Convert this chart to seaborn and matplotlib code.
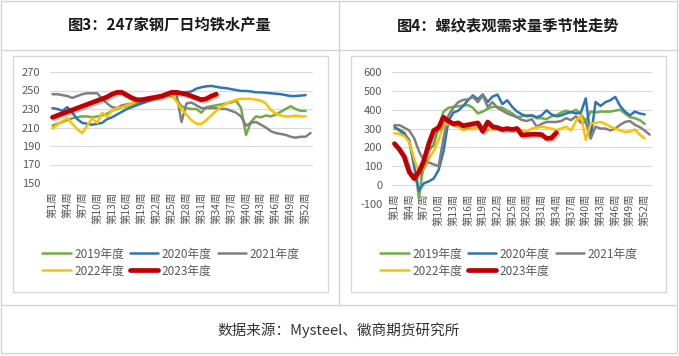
import numpy as np
import pandas as pd
import seaborn as sns
import matplotlib
matplotlib.use('Agg')
import matplotlib.pyplot as plt
from matplotlib.lines import Line2D
from matplotlib.patches import Rectangle
import matplotlib.patheffects as pe

years = ['2019年度', '2020年度', '2021年度', '2022年度', '2023年度']
colors = ['#70AD47', '#2E75B6', '#808080', '#FFC000', '#C00000']
widths = [1.8, 1.8, 1.8, 1.8, 3.4]

# 图3: 247家钢厂日均铁水产量 (万吨), weekly
iron_2019 = [212, 214, 216, 218, 220, 221, 222, 222, 221, 222, 223, 225, 228, 230, 232, 233, 235, 236,
             238, 239, 240, 241, 242, 244, 244, 240, 233, 231, 230, 230, 226, 232, 233, 234, 235, 236,
             237, 239, 231, 202, 216, 222, 221, 223, 222, 224, 227, 230, 233, 230, 228, 228]
iron_2020 = [231, 230, 228, 232, 226, 219, 215, 214, 213, 214, 215, 219, 221, 224, 227, 230, 232, 234,
             236, 238, 240, 242, 244, 246, 247, 248, 248, 248, 249, 252, 253.5, 254.5, 255, 254, 253, 252.5,
             251.5, 250.5, 249.5, 249.5, 249, 248, 248, 247.5, 247, 246.5, 246, 245, 244, 244, 244.5, 245]
iron_2021 = [246, 246, 245, 244, 242, 244, 246, 247, 247, 247, 241, 236, 232, 231, 234, 235, 236, 238,
             240, 241, 242, 243, 244, 245, 246, 246, 216, 236, 237, 234, 231, 231, 231, 231, 230, 230,
             228, 226, 222, 212, 215, 216, 213, 210, 206, 204, 203, 202, 200, 199, 200, 200, 204]
iron_2022 = [209, 213, 217, 220, 214, 208, 204, 212, 220, 215, 226, 222, 228, 231, 232, 234, 236, 238,
             240, 241, 242, 242, 243, 244, 245, 238, 230, 224, 218, 214, 214, 218, 223, 228, 232, 236,
             238, 240, 241, 241, 241, 240, 239, 236, 229, 225, 223, 222, 222, 223, 222, 222]
iron_2023 = [221, 223, 225, 227, 229, 231, 233, 235, 237, 239, 241, 243, 246, 248, 248, 245, 242, 240,
             240, 241, 242, 243, 244, 246, 248, 248, 247, 246, 244, 242, 240, 241, 244, 246]

# 图4: 螺纹表观需求量 (万吨), weekly
rebar_2019 = [300, 295, 280, 230, 120, -70, 130, 190, 210, 310, 390, 410, 415, 418, 422, 425, 410, 380,
              390, 405, 415, 415, 410, 395, 380, 360, 365, 370, 370, 355, 355, 350, 365, 370, 385, 395,
              385, 400, 375, 340, 390, 385, 390, 390, 390, 395, 400, 380, 360, 355, 345, 325]
rebar_2020 = [310, 290, 270, 240, 100, -30, 10, 20, 35, 80, 180, 340, 385, 395, 420, 450, 476, 455,
              481, 441, 470, 480, 430, 450, 415, 390, 375, 365, 370, 360, 370, 397, 375, 365, 370, 380,
              388, 380, 385, 460, 250, 441, 420, 440, 450, 468, 420, 390, 370, 390, 380, 375]
rebar_2021 = [318, 318, 305, 290, 250, 180, 130, 120, 110, 100, 250, 370, 410, 440, 452, 455, 468, 440,
              476, 415, 440, 410, 395, 380, 370, 360, 345, 340, 350, 310, 325, 335, 335, 335, 340, 355,
              345, 365, 330, 335, 247, 310, 300, 300, 290, 300, 320, 335, 340, 320, 308, 290, 268]
rebar_2022 = [275, 272, 260, 230, 140, 60, 90, 140, 180, 240, 315, 326, 320, 310, 291, 300, 295, 305,
              300, 290, 295, 305, 300, 295, 300, 305, 290, 285, 300, 305, 310, 305, 300, 292, 300, 310,
              290, 340, 370, 240, 326, 330, 335, 325, 310, 300, 290, 282, 285, 295, 268, 248]
rebar_2023 = [220, 190, 150, 70, 35, 70, 130, 220, 290, 305, 360, 340, 325, 330, 315, 320, 325, 330,
              285, 335, 310, 305, 295, 300, 295, 300, 265, 268, 270, 270, 268, 248, 250, 278]

tick_weeks = list(range(1, 53, 3))
tick_labels = [f'第{w}周' for w in tick_weeks]

W, H = 679, 356

sns.set_theme(style='white')
plt.rcParams['font.family'] = ['Noto Sans CJK SC', 'DejaVu Sans']
plt.rcParams['axes.unicode_minus'] = False

fig = plt.figure(figsize=(W / 100, H / 100), dpi=100)
fig.patch.set_facecolor('white')


def fx(x):
    return x / W


def fy(y):
    return 1 - y / H


def hline(y, x0, x1, c='#d4d4d4'):
    fig.add_artist(Line2D([fx(x0), fx(x1)], [fy(y), fy(y)], color=c, lw=1.0, transform=fig.transFigure))


def vline(x, y0, y1, c='#d4d4d4'):
    fig.add_artist(Line2D([fx(x), fx(x)], [fy(y0), fy(y1)], color=c, lw=1.0, transform=fig.transFigure))


# table frame
hline(1, 1, 677)
hline(50, 1, 677)
hline(305, 1, 677)
hline(353, 1, 677)
vline(1, 1, 353)
vline(677, 1, 353)
vline(339, 1, 305)
for x0 in (13, 351):
    fig.add_artist(Rectangle((fx(x0), fy(292)), 315 / W, 236 / H, fill=False,
                             edgecolor='#d9d9d9', lw=1.0, transform=fig.transFigure))

fig.text(fx(170), fy(25), '图3：247家钢厂日均铁水产量', ha='center', va='center',
         fontsize=11, fontweight='bold', color='#1a1a1a')
fig.text(fx(508), fy(25), '图4：螺纹表观需求量季节性走势', ha='center', va='center',
         fontsize=11, fontweight='bold', color='#1a1a1a')
fig.text(fx(339), fy(330), '数据来源：Mysteel、徽商期货研究所', ha='center', va='center',
         fontsize=10.5, color='#333333')


def draw_panel(rect, series, ylim, yticks, zero_axis=False):
    ax = fig.add_axes(rect)
    for vals, c, lw in zip(series, colors, widths):
        weeks = np.arange(1, len(vals) + 1)
        kw = {}
        if c == '#C00000':
            kw['path_effects'] = [pe.SimpleLineShadow(offset=(1.2, -1.2), shadow_color='#555555', alpha=0.35),
                                  pe.Normal()]
        sns.lineplot(x=weeks, y=vals, ax=ax, color=c, linewidth=lw,
                     solid_capstyle='round', solid_joinstyle='round', **kw)
    for s in ax.spines.values():
        s.set_visible(False)
    if zero_axis:
        ax.spines['bottom'].set_position(('data', 0))
    ax.set_xlim(0.5, 53.5)
    ax.set_ylim(*ylim)
    ax.set_yticks(yticks)
    ax.set_xticks(tick_weeks)
    ax.set_xticklabels(tick_labels, rotation=90, fontsize=7.5, color='#595959')
    ax.tick_params(axis='y', labelsize=8, labelcolor='#595959', length=0, pad=7)
    ax.tick_params(axis='x', length=0, pad=6)
    ax.grid(axis='y', color='#d9d9d9', linewidth=0.8)
    ax.set_axisbelow(True)
    if zero_axis:
        ax.yaxis.get_gridlines()[0].set_visible(False)
    ax.set_xlabel('')
    ax.set_ylabel('')
    ax.patch.set_alpha(0)
    return ax


ax1 = draw_panel([fx(50), fy(183), 263 / W, 111 / H],
                 [iron_2019, iron_2020, iron_2021, iron_2022, iron_2023],
                 (150, 270), list(range(150, 271, 20)))
ax2 = draw_panel([fx(392), fy(204), 260 / W, 132 / H],
                 [rebar_2019, rebar_2020, rebar_2021, rebar_2022, rebar_2023],
                 (-100, 600), list(range(-100, 601, 100)), zero_axis=True)

handles = [Line2D([], [], color=c, lw=lw) for c, lw in zip(colors, widths)]
order = [0, 3, 1, 4, 2]
for cx in (171, 509):
    fig.legend([handles[i] for i in order], [years[i] for i in order], ncol=3,
               loc='center', bbox_to_anchor=(fx(cx), fy(262.5)), frameon=False,
               fontsize=8.5, handlelength=2.4, handletextpad=0.3, columnspacing=0.5,
               labelspacing=0.35, labelcolor='#595959')

fig.savefig('out.png', dpi=100, facecolor='white')
